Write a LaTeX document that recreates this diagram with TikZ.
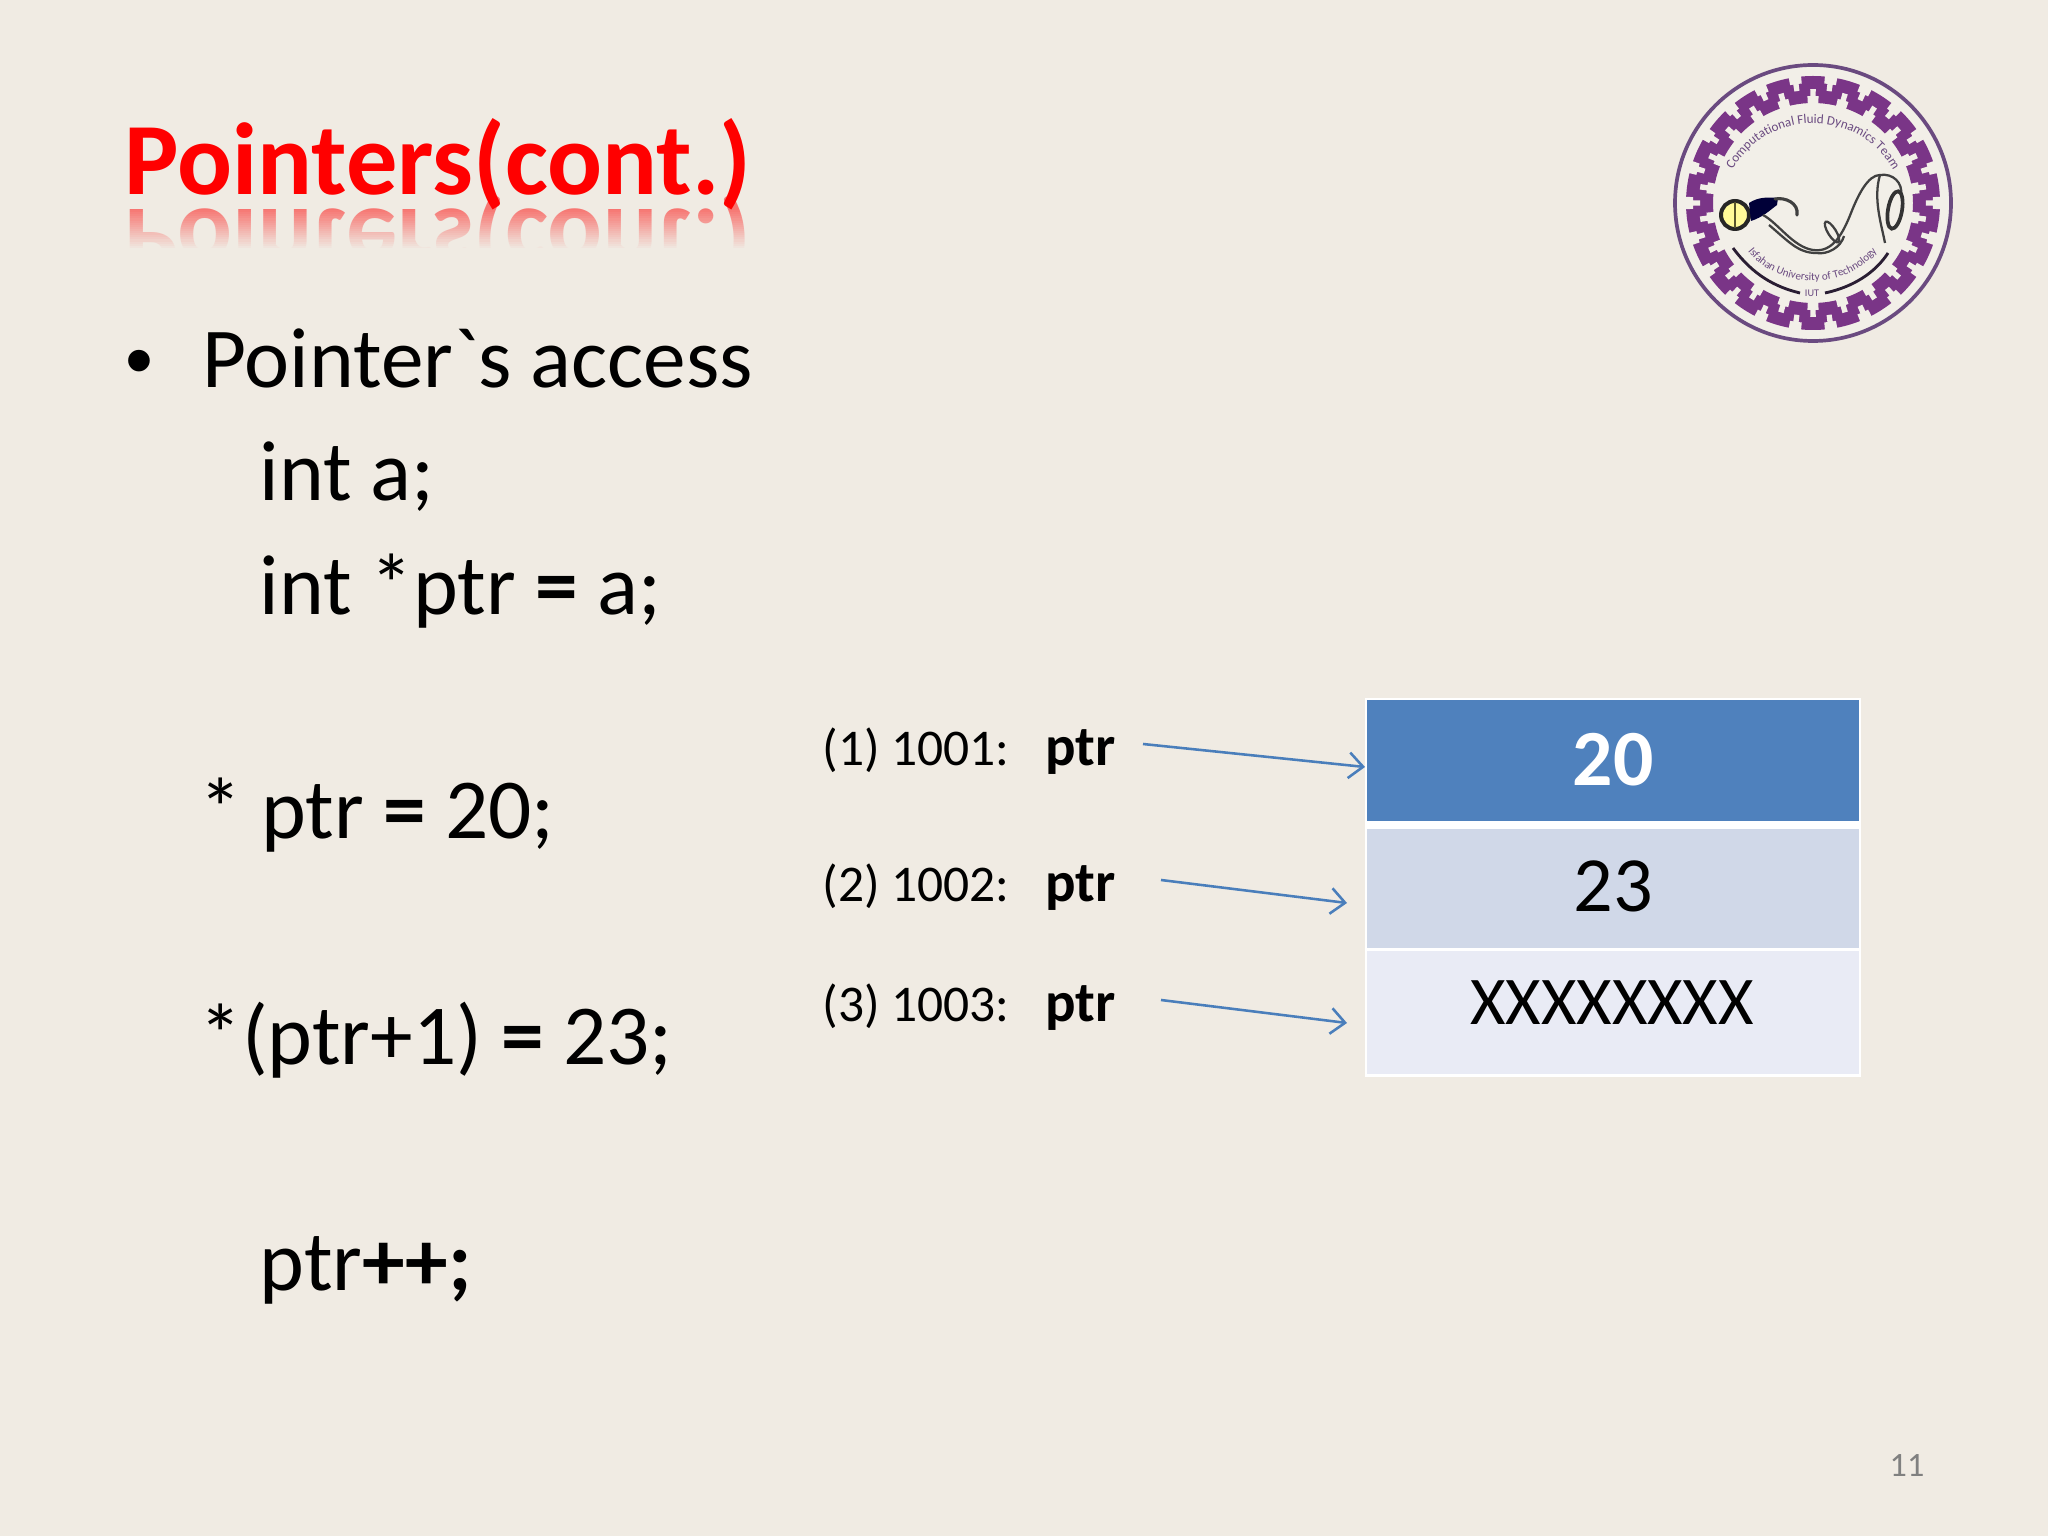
\documentclass[tikz,border=0pt]{standalone}
\usepackage{fontspec}
\setmainfont{Carlito}
\newfontfamily\rawfont{Carlito}
\newfontfamily\bulletfont{Liberation Sans}
\usetikzlibrary{arrows.meta,decorations.text,calc}
\definecolor{bgc}{HTML}{F0EBE3}
\definecolor{logoin}{HTML}{F2EFE8}
\definecolor{darkcell}{HTML}{4F81BD}
\definecolor{midcell}{HTML}{D0D8E8}
\definecolor{lightcell}{HTML}{E9EBF5}
\definecolor{arrowc}{HTML}{4A7EBB}
\definecolor{logoc}{HTML}{7A3587}
\definecolor{logoring}{HTML}{6A4A80}
\newcommand{\fs}[1]{\fontsize{#1}{#1}\selectfont}
\tikzset{
 x=0.3515625pt,y=-0.3515625pt,
 body/.style={anchor=base west,inner sep=0pt,font=\fs{30},text=black},
 addr/.style={anchor=base west,inner sep=0pt,font=\fs{18.1},text=black},
 ptrlabel/.style={anchor=base west,inner sep=0pt,font=\fs{20}\bfseries,text=black},
 cellnum/.style={anchor=base,inner sep=0pt,text=black},
 ptrarrow/.style={draw=arrowc,line width=0.9pt,-{Straight Barb[length=5pt,width=9pt,line width=0.9pt]}},
 worm/.style={draw=black!75,line width=0.8pt},
}
\begin{document}
\begin{tikzpicture}
\useasboundingbox (0,0) rectangle (2048,1536);
\fill[bgc] (0,0) rectangle (2048,1536);
% title
\node[anchor=base west,inner sep=0pt,font=\fs{36}\bfseries,text=red] (title) at (124,195) {Pointers(cont.)};
\node[anchor=base west,inner sep=0pt,font=\fs{36}\bfseries,text=red,opacity=0.5] (refl) at (124,210) {\scalebox{1}[-1]{Pointers(cont.)}};
\foreach \i in {0,...,19}{
  \pgfmathsetmacro{\op}{min(1,\i/19)}
  \fill[bgc,opacity=\op] (110,{208+\i*2.1}) rectangle (770,{208+(\i+1)*2.1});
}
\fill[bgc] (110,249) rectangle (770,290);
% body
\node[anchor=base west,inner sep=0pt,font=\bulletfont\fs{28},text=black] (bul) at (125,388) {•};
\node[body] (l1) at (202,388) {Pointer{\rawfont `}s access};
\node[body] (l2) at (259,501) {int a;};
\node[body] (l3) at (259,614) {int *ptr \textbf{=} a;};
\node[body] (l4) at (199,838) {* ptr \textbf{=} 20;};
\node[body] (l5) at (199,1064) {*(ptr+1) \textbf{=} 23;};
\node[body] (l6) at (259,1290) {ptr\textbf{++;}};
% table
\fill[white] (1365,698) rectangle (1861,1077);
\fill[darkcell] (1367,700) rectangle (1859,821);
\fill[midcell] (1367,829) rectangle (1859,948);
\fill[lightcell] (1367,951) rectangle (1859,1074);
\node[cellnum,font=\fs{28}\bfseries,text=white] (v1) at (1613,785) {20};
\node[cellnum,font=\fs{27.5}] (v2) at (1613,911) {23};
\node[cellnum,font=\fs{24}] (v3) at (1612,1024) {XXXXXXXX};
\coordinate (t1) at (1365,767);
\coordinate (t2) at (1347,903);
\coordinate (t3) at (1347,1023);
\coordinate (s1) at (1143,744);
\coordinate (s2) at (1161,880);
\coordinate (s3) at (1161,1000);
% labels
\node[addr] (a1) at (822,765) {(1) 1001:};
\node[ptrlabel] (p1) at (1045,765) {ptr};
\node[addr] (a2) at (822,901) {(2) 1002:};
\node[ptrlabel] (p2) at (1045,901) {ptr};
\node[addr] (a3) at (822,1021) {(3) 1003:};
\node[ptrlabel] (p3) at (1045,1021) {ptr};
\draw[ptrarrow] (s1) -- (t1);
\draw[ptrarrow] (s2) -- (t2);
\draw[ptrarrow] (s3) -- (t3);
% page number
\node[anchor=base,inner sep=0pt,font=\fs{12},text=black!50] (pg) at (1907,1476) {11};
% logo
\begin{scope}[shift={(1813,203)}]
  \fill[logoin] (0,0) circle (137);
  \draw[logoring,line width=1.3pt] (0,0) circle (138);
  % stepped band: an annulus with stepped notches cut from both edges
  \fill[logoc,even odd rule] (0,0) circle (127) (0,0) circle (100);
  \pgfmathsetmacro{\per}{360/22}
  \foreach \k in {0,...,21}{
    \pgfmathsetmacro{\a}{\k*\per}
    \pgfmathsetmacro{\b}{\a+\per/2}
    \fill[logoin] ({\a-2.8}:128) -- ({\a+2.8}:128) -- ({\a+2.8}:120) -- ({\a+1.3}:120)
       -- ({\a+1.3}:113) -- ({\a-1.3}:113) -- ({\a-1.3}:120) -- ({\a-2.8}:120) -- cycle;
    \fill[logoin] ({\b-3}:99) -- ({\b+3}:99) -- ({\b+3}:107) -- ({\b+1.4}:107)
       -- ({\b+1.4}:114) -- ({\b-1.4}:114) -- ({\b-1.4}:107) -- ({\b-3}:107) -- cycle;
  }
  % top text
  \path[decorate,decoration={text along path,text align=center,
     text={|\fs{4.6}\color{logoring}|Computational Fluid Dynamics Team}}]
     (-87,-18) .. controls (-58,-100) and (58,-100) .. (87,-18);
  % bottom text
  \path[decorate,decoration={text along path,text align=center,
     text={|\fs{3.9}\color{logoring}|Isfahan University of Technology}}]
     (-66,47) .. controls (-35,88) and (35,88) .. (65,47);
  \node[inner sep=0pt,font=\fs{3.6},text=logoring] (yr) at (-1,90) {IUT};
  % arcs near bottom
  \draw[black!60!logoring,line width=1pt] (-80,45) .. controls (-60,72) and (-38,84) .. (-13,90);
  \draw[black!60!logoring,line width=1pt] (12,90) .. controls (40,84) and (62,70) .. (75,50);
  % eye
  \fill[white!60!yellow] (-78,12) circle (14);
  \draw[black!85,line width=1.4pt] (-78,12) circle (14);
  \draw[black!50!olive,line width=1pt] (-78,-1) -- (-78,25);
  % worm
  \fill[black!78!blue] (-64,0) .. controls (-55,-6) and (-45,-6) .. (-35,-5) -- (-36,2) .. controls (-44,8) and (-50,14) .. (-62,18) -- cycle;
  \draw[black!75,line width=1.1pt,line cap=round] (-38,-4) .. controls (-28,-6) and (-14,0) .. (-16,12);
  \draw[worm] (-50,12) .. controls (-35,20) and (-20,44) .. (0,47) .. controls (20,50) and (30,30) .. (38,10) .. controls (45,-8) and (55,-28) .. (67,-28) .. controls (80,-30) and (90,-20) .. (88,-8);
  \draw[worm] (-44,22) .. controls (-25,38) and (-15,50) .. (3,50) .. controls (15,52) and (28,44) .. (31,33);
  \draw[worm] (67,-28) .. controls (60,-5) and (68,20) .. (72,40);
  \draw[worm,rotate around={-58:(19,29)}] (19,29) ellipse (12 and 4);
  \draw[black!80,line width=1.3pt,rotate around={80:(82,7)}] (82,7) ellipse (19 and 7);
\end{scope}
\end{tikzpicture}
\end{document}
